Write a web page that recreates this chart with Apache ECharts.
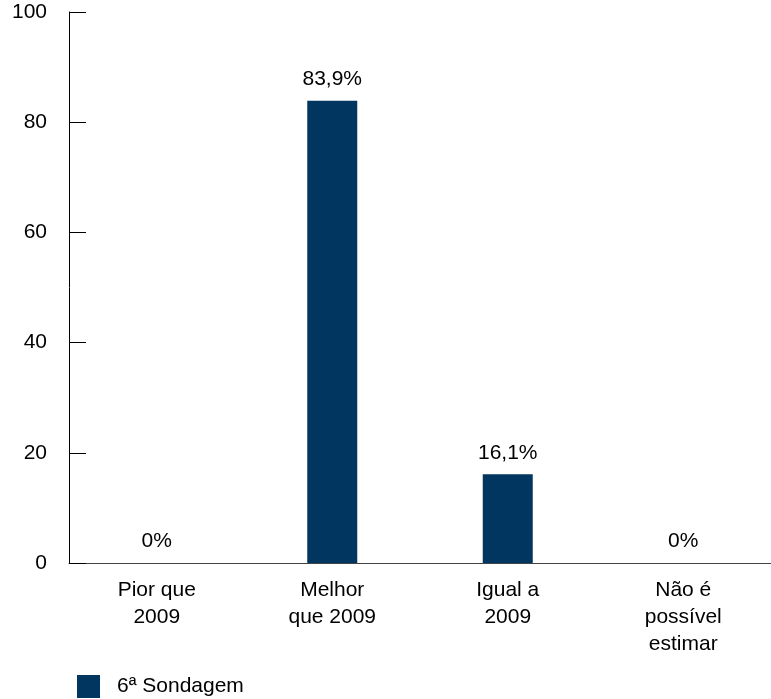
<!DOCTYPE html>
<html>
<head>
<meta charset="utf-8">
<script src="https://cdn.jsdelivr.net/npm/echarts@6/dist/echarts.min.js"></script>
<style>html,body{margin:0;padding:0;background:#fff}#c{width:771px;height:699px}</style>
</head>
<body>
<div id="c"></div>
<script>
var categories = ['Pior que\n2009', 'Melhor\nque 2009', 'Igual a\n2009', 'Não é\npossível\nestimar'];
var values = [0, 83.9, 16.1, 0];
var labels = ['0%', '83,9%', '16,1%', '0%'];
var seriesName = '6ª Sondagem';
var yTicks = [0, 20, 40, 60, 80, 100];

var chart = echarts.init(document.getElementById('c'), null, {renderer: 'canvas'});
var FONT = 'Liberation Sans, Arial, sans-serif';
chart.setOption({
  animation: false,
  grid: {left: 69, top: 12, width: 720, bottom: 136, containLabel: false},
  legend: {
    left: 72, top: 670, itemWidth: 23, itemHeight: 23, itemGap: 10,
    icon: 'rect',
    textStyle: {fontFamily: FONT, fontSize: 21, color: '#000', padding: [0, 0, 0, 12]},
    data: [seriesName]
  },
  xAxis: {
    type: 'category', data: categories,
    axisLine: {lineStyle: {color: '#444', width: 1}},
    axisTick: {show: false},
    axisLabel: {fontFamily: FONT, fontSize: 21, color: '#000', margin: 14, lineHeight: 27, interval: 0}
  },
  yAxis: {
    type: 'value', min: 0, max: 100, interval: 20,
    axisLine: {show: true, lineStyle: {color: '#000', width: 1}},
    axisTick: {show: true, inside: true, length: 17, lineStyle: {color: '#000'}},
    splitLine: {show: false},
    axisLabel: {fontFamily: FONT, fontSize: 21, color: '#000', margin: 22,
      formatter: function (v) { return yTicks.indexOf(v) >= 0 ? String(v) : ''; }}
  },
  series: [{
    name: seriesName, type: 'bar', data: values, barWidth: 50,
    itemStyle: {color: '#00365f'},
    label: {show: true, position: 'top', distance: 11, fontFamily: FONT, fontSize: 21, color: '#000',
      formatter: function (p) { return labels[p.dataIndex]; }}
  }]
});
</script>
</body>
</html>
